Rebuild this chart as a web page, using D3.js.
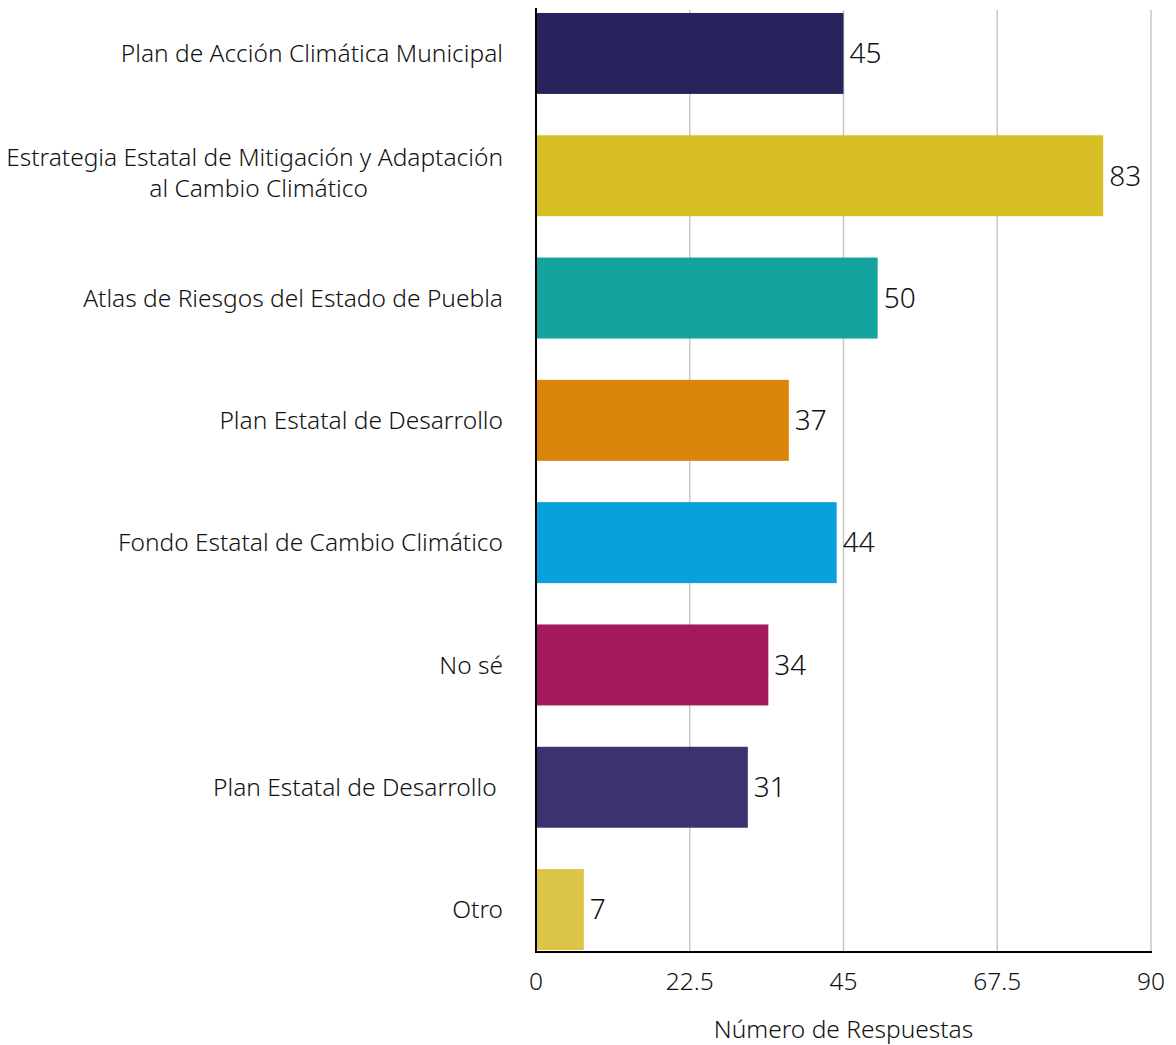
<!DOCTYPE html>
<html><head><meta charset="utf-8">
<script src="https://cdn.jsdelivr.net/npm/d3@7"></script>
<style>body{margin:0;background:#fff}svg{display:block}text{font-family:"Noto Sans",sans-serif;fill:#111;font-weight:300}</style>
</head><body><svg id="c" width="1176" height="1045"></svg>
<script>
const categories = [
  ["Plan de Acción Climática Municipal"],
  ["Estrategia Estatal de Mitigación y Adaptación", "al Cambio Climático"],
  ["Atlas de Riesgos del Estado de Puebla"],
  ["Plan Estatal de Desarrollo"],
  ["Fondo Estatal de Cambio Climático"],
  ["No sé"],
  ["Plan Estatal de Desarrollo\u00a0"],
  ["Otro"]
];
const values = [45, 83, 50, 37, 44, 34, 31, 7];
const colors = ["#28235c", "#d6be24", "#14a39f", "#db840b", "#0aa0db", "#a3195b", "#3b3370", "#dcc447"];
const xTicks = [0, 22.5, 45, 67.5, 90];
const xTitle = "Número de Respuestas";

const svg = d3.select("#c");
const x0 = 536, x1 = 1151, yTop = 8, yBottom = 952;
const x = d3.scaleLinear().domain([0, 90]).range([x0, x1]);
const ids = d3.range(values.length);
const y = d3.scaleBand().domain(ids).range([-7.7, 970.7]).paddingInner(0.338).paddingOuter(0.169);
const FS = 24.5;

// gridlines
svg.append("g").selectAll("line").data(xTicks.slice(1)).join("line")
  .attr("x1", d => x(d)).attr("x2", d => x(d))
  .attr("y1", 10).attr("y2", yBottom)
  .attr("stroke", "#c8c8c8").attr("stroke-width", 1.5);

// bars
svg.append("g").selectAll("rect").data(ids).join("rect")
  .attr("x", x(0)).attr("y", i => y(i))
  .attr("width", i => x(values[i]) - x(0))
  .attr("height", y.bandwidth())
  .attr("fill", i => colors[i]);

// value labels
svg.append("g").selectAll("text").data(ids).join("text")
  .attr("x", i => x(values[i]) + 6)
  .attr("y", i => y(i) + y.bandwidth() / 2)
  .attr("dy", "0.35em")
  .style("font-size", "28px")
  .text(i => values[i]);

// category labels
const lh = 31;
const lab = svg.append("g").selectAll("text").data(ids).join("text")
  .attr("text-anchor", "end")
  .attr("x", 503)
  .attr("y", i => y(i) + y.bandwidth() / 2 - (categories[i].length - 1) * (lh / 2 + 3))
  .attr("dy", "0.35em")
  .style("font-size", FS + "px");
lab.each(function(i) {
  const t = d3.select(this);
  categories[i].forEach((l, k) => {
    t.append("tspan").attr("x", 503).attr("dy", k === 0 ? null : lh + "px").text(l);
  });
});
lab.filter(i => categories[i].length > 1).each(function() {
  const tspans = d3.select(this).selectAll("tspan").nodes();
  const w0 = tspans[0].getComputedTextLength();
  const w1 = tspans[1].getComputedTextLength();
  d3.select(tspans[1]).attr("x", 503 - (w0 - w1) / 2 + 4);
});

// axes lines
svg.append("line").attr("x1", x0).attr("x2", x0).attr("y1", yTop).attr("y2", yBottom + 1)
  .attr("stroke", "#000").attr("stroke-width", 2);
svg.append("line").attr("x1", x0 - 1).attr("x2", x1 + 1).attr("y1", yBottom).attr("y2", yBottom)
  .attr("stroke", "#000").attr("stroke-width", 2);

// tick labels
svg.append("g").selectAll("text").data(xTicks).join("text")
  .attr("x", d => x(d)).attr("y", 990)
  .attr("text-anchor", "middle")
  .style("font-size", FS + "px")
  .text(d => d3.format("")(d));

svg.append("text").attr("x", x(45)).attr("y", 1038)
  .attr("text-anchor", "middle").style("font-size", FS + "px")
  .text(xTitle);
</script></body></html>
